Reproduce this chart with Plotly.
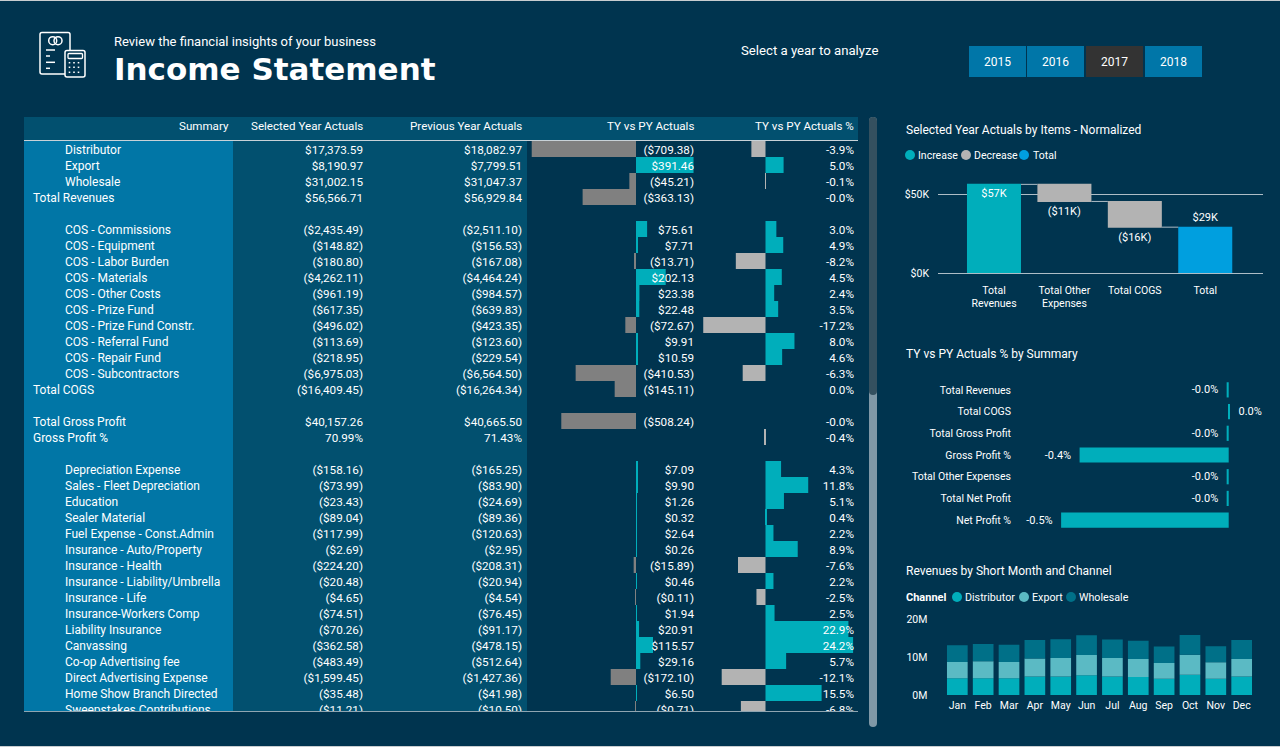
import plotly.graph_objects as go

W, H = 1280, 747
BG = "#00344F"
TEAL = "#00AEBB"
FONT = "Roboto"

# income statement table
row_labels = [
    "Distributor", "Export", "Wholesale", "Total Revenues", "",
    "COS - Commissions", "COS - Equipment", "COS - Labor Burden", "COS - Materials",
    "COS - Other Costs", "COS - Prize Fund", "COS - Prize Fund Constr.", "COS - Referral Fund",
    "COS - Repair Fund", "COS - Subcontractors", "Total COGS", "",
    "Total Gross Profit", "Gross Profit %", "",
    "Depreciation Expense", "Sales - Fleet Depreciation", "Education", "Sealer Material",
    "Fuel Expense - Const.Admin", "Insurance - Auto/Property", "Insurance - Health",
    "Insurance - Liability/Umbrella", "Insurance - Life", "Insurance-Workers Comp",
    "Liability Insurance", "Canvassing", "Co-op Advertising fee", "Direct Advertising Expense",
    "Home Show Branch Directed", "Sweepstakes Contributions",
]
selected_year = [
    "$17,373.59", "$8,190.97", "$31,002.15", "$56,566.71", "",
    "($2,435.49)", "($148.82)", "($180.80)", "($4,262.11)", "($961.19)", "($617.35)", "($496.02)",
    "($113.69)", "($218.95)", "($6,975.03)", "($16,409.45)", "",
    "$40,157.26", "70.99%", "",
    "($158.16)", "($73.99)", "($23.43)", "($89.04)", "($117.99)", "($2.69)", "($224.20)",
    "($20.48)", "($4.65)", "($74.51)", "($70.26)", "($362.58)", "($483.49)", "($1,599.45)",
    "($35.48)", "($11.21)",
]
previous_year = [
    "$18,082.97", "$7,799.51", "$31,047.37", "$56,929.84", "",
    "($2,511.10)", "($156.53)", "($167.08)", "($4,464.24)", "($984.57)", "($639.83)", "($423.35)",
    "($123.60)", "($229.54)", "($6,564.50)", "($16,264.34)", "",
    "$40,665.50", "71.43%", "",
    "($165.25)", "($83.90)", "($24.69)", "($89.36)", "($120.63)", "($2.95)", "($208.31)",
    "($20.94)", "($4.54)", "($76.45)", "($91.17)", "($478.15)", "($512.64)", "($1,427.36)",
    "($41.98)", "($10.50)",
]
ty_vs_py = [
    -709.38, 391.46, -45.21, -363.13, None,
    75.61, 7.71, -13.71, 202.13, 23.38, 22.48, -72.67, 9.91, 10.59, -410.53, -145.11, None,
    -508.24, None, None,
    7.09, 9.90, 1.26, 0.32, 2.64, 0.26, -15.89, 0.46, -0.11, 1.94, 20.91, 115.57, 29.16,
    -172.10, 6.50, -0.71,
]
ty_vs_py_pct = [
    -3.9, 5.0, -0.1, -0.0, None,
    3.0, 4.9, -8.2, 4.5, 2.4, 3.5, -17.2, 8.0, 4.6, -6.3, 0.0, None,
    -0.0, -0.4, None,
    4.3, 11.8, 5.1, 0.4, 2.2, 8.9, -7.6, 2.2, -2.5, 2.5, 22.9, 24.2, 5.7, -12.1, 15.5, -6.8,
]
total_rows = ["Total Revenues", "Total COGS", "Total Gross Profit", "Gross Profit %"]
table_headers = ["Summary", "Selected Year Actuals", "Previous Year Actuals", "TY vs PY Actuals", "TY vs PY Actuals %"]

# waterfall
waterfall_items = ["Total<br>Revenues", "Total Other<br>Expenses", "Total COGS", "Total"]
waterfall_values = [56.57, -10.9, -16.41, 29.26]
waterfall_labels = ["$57K", "($11K)", "($16K)", "$29K"]

# summary bars
summary_items = ["Total Revenues", "Total COGS", "Total Gross Profit", "Gross Profit %",
                 "Total Other Expenses", "Total Net Profit", "Net Profit %"]
summary_pct = [-0.006, 0.003, -0.006, -0.436, -0.006, -0.006, -0.49]
summary_labels = ["-0.0%", "0.0%", "-0.0%", "-0.4%", "-0.0%", "-0.0%", "-0.5%"]

# revenues by month
months = ["Jan", "Feb", "Mar", "Apr", "May", "Jun", "Jul", "Aug", "Sep", "Oct", "Nov", "Dec"]
distributor = [4.4, 4.4, 4.4, 4.85, 4.85, 5.2, 4.85, 4.75, 4.3, 5.3, 4.3, 4.85]
export = [4.3, 4.5, 4.3, 4.75, 4.9, 5.3, 4.9, 4.75, 4.15, 5.3, 4.3, 4.65]
wholesale = [4.4, 4.5, 4.5, 4.85, 4.95, 5.2, 4.85, 4.75, 4.3, 5.2, 4.2, 4.95]

years = ["2015", "2016", "2017", "2018"]


def px(x):
    return x / W


def py(y):
    return 1 - y / H


def note(x, y, text, size=12, anchor="left", color="white", family=FONT):
    return dict(x=px(x), y=py(y), xref="paper", yref="paper", text=text, showarrow=False,
                xanchor=anchor, yanchor="middle", borderpad=0,
                font=dict(size=size, color=color, family=family))


def rect(x0, y0, x1, y1, fill, line=None, width=1):
    return dict(type="rect", xref="paper", yref="paper", x0=px(x0), x1=px(x1), y0=py(y0), y1=py(y1),
                fillcolor=fill, line=dict(color=line, width=width if line else 0), layer="below")


def rounded(x0, y0, x1, y1, r, fill=None, line=None, width=1):
    rx, ry = px(r), r / H
    a, b, c, d = px(x0), px(x1), py(y0), py(y1)
    path = (f"M{a + rx},{c} L{b - rx},{c} Q{b},{c} {b},{c - ry} L{b},{d + ry} Q{b},{d} {b - rx},{d} "
            f"L{a + rx},{d} Q{a},{d} {a},{d + ry} L{a},{c - ry} Q{a},{c} {a + rx},{c} Z")
    return dict(type="path", xref="paper", yref="paper", path=path, fillcolor=fill or "rgba(0,0,0,0)",
                line=dict(color=line, width=width if line else 0), layer="below")


def dot(x, y, r, fill=None, line=None, width=1):
    return dict(type="circle", xref="paper", yref="paper", x0=px(x - r), x1=px(x + r),
                y0=py(y - r), y1=py(y + r), fillcolor=fill or "rgba(0,0,0,0)",
                line=dict(color=line, width=width if line else 0), layer="below")


def line(x0, y0, x1, y1, color="white", width=1):
    return dict(type="line", xref="paper", yref="paper", x0=px(x0), x1=px(x1), y0=py(y0), y1=py(y1),
                line=dict(color=color, width=width), layer="below")


fig = go.Figure()

# table bars
row_idx = list(range(len(row_labels)))
fig.add_trace(go.Bar(
    x=ty_vs_py, y=row_idx, orientation="h", xaxis="x", yaxis="y", width=1,
    marker=dict(color=[TEAL if (v or 0) >= 0 else "#808080" for v in ty_vs_py], line_width=0),
))
fig.add_trace(go.Bar(
    x=ty_vs_py_pct, y=row_idx, orientation="h", xaxis="x2", yaxis="y", width=1,
    marker=dict(color=[TEAL if (v or 0) >= 0 else "#B3B3B3" for v in ty_vs_py_pct], line_width=0),
))

# table text, the x axis of this layer runs in page pixels
col_right = [363, 522, 694, 854]


def money(v):
    if v is None:
        return ""
    return f"${v:,.2f}" if v >= 0 else f"(${-v:,.2f})"


pct_text = ["" if v is None else f"{v:.1f}%" for v in ty_vs_py_pct]
col_text = [selected_year, previous_year, [money(v) for v in ty_vs_py], pct_text]
for right, texts in zip(col_right, col_text):
    fig.add_trace(go.Scatter(
        x=[right] * len(texts), y=row_idx, text=texts, mode="text", textposition="middle left",
        xaxis="x3", yaxis="y3", cliponaxis=True, textfont=dict(size=11.7, color="white", family=FONT),
    ))
for indent, keep in ((33, True), (65, False)):
    names = [n if (n in total_rows) == keep else "" for n in row_labels]
    fig.add_trace(go.Scatter(
        x=[indent] * len(names), y=row_idx, text=names, mode="text", textposition="middle right",
        xaxis="x3", yaxis="y3", cliponaxis=True, textfont=dict(size=12, color="white", family=FONT),
    ))

# waterfall chart
fig.add_trace(go.Waterfall(
    x=waterfall_items, y=waterfall_values, measure=["relative", "relative", "relative", "total"],
    xaxis="x4", yaxis="y4", text=waterfall_labels, textposition=["inside", "outside", "outside", "outside"],
    insidetextanchor="end", constraintext="none", cliponaxis=False, width=0.767,
    textfont=dict(size=11, color="white", family=FONT),
    increasing=dict(marker=dict(color=TEAL, line_width=0)),
    decreasing=dict(marker=dict(color="#B3B3B3", line_width=0)),
    totals=dict(marker=dict(color="#009FDF", line_width=0)),
    connector=dict(line=dict(color="#AEBDC6", width=1)),
))

# summary bars
fig.add_trace(go.Bar(
    x=summary_pct, y=summary_items, orientation="h", xaxis="x5", yaxis="y5",
    marker=dict(color=TEAL, line_width=0), width=0.7,
    text=[t + "  " if v < 0 else "  " + t for t, v in zip(summary_labels, summary_pct)],
    textposition="outside", cliponaxis=False, constraintext="none",
    textfont=dict(size=11, color="white", family=FONT),
))

# month stack
for name, vals, color in (("Distributor", distributor, TEAL), ("Export", export, "#5BBAC4"),
                          ("Wholesale", wholesale, "#007088")):
    fig.add_trace(go.Bar(x=months, y=vals, name=name, xaxis="x6", yaxis="y6",
                         marker=dict(color=color, line_width=0), width=0.8))

hidden = dict(visible=False, fixedrange=True, automargin=False)
tick_font = dict(size=10.5, color="white", family=FONT)
plain = dict(fixedrange=True, automargin=False, showgrid=False, zeroline=False, showline=False, ticks="")

shapes = [
    rect(0, 0, 1280, 1, "#C8CDD0"),
    rect(0, 746, 1280, 747, "#C8CDD0"),
    # table blocks
    rect(24, 117, 858, 140, "#02506F"),
    rect(24, 141, 233, 711, "#0176A6"),
    rect(233, 141, 527, 711, "#02506F"),
    line(24, 140.5, 858, 140.5, "#C8D2D8"),
    line(24, 711.5, 858, 711.5, "#8FA5B1"),
    # scrollbar
    rounded(869, 117, 877, 727, 4, fill="#8098A6"),
    rounded(869, 117, 877, 395, 4, fill="#34505F"),
    # icon
    rounded(40, 32.5, 70, 74, 2, line="white", width=1.5),
    rounded(65, 50.5, 85, 77, 2, fill=BG, line="white", width=1.5),
    dot(52.7, 40.7, 4, line="white", width=1.5),
    dot(58, 40.7, 4, line="white", width=1.5),
    line(46, 50, 55, 50, width=1.5),
    line(46, 56, 50, 56, width=1.5),
    line(46, 62.3, 55, 62.3, width=1.5),
    line(46, 68.3, 50, 68.3, width=1.5),
    rounded(68, 53.5, 82.5, 58.5, 1, line="white", width=1.3),
]
for cx in (69.5, 74, 78.5):
    for cy in (62.7, 67.3, 72.3):
        shapes.append(line(cx - 0.8, cy, cx + 0.8, cy, width=1.5))

annotations = [
    note(113, 41, "Review the financial insights of your business", size=13),
    note(113, 69, "<b>Income Statement</b>", size=31, family="DejaVu Sans"),
    note(740, 51, "Select a year to analyze", size=13.2),
    note(905, 130, "Selected Year Actuals by Items - Normalized", size=12),
    note(905, 354, "TY vs PY Actuals % by Summary", size=12),
    note(905, 571, "Revenues by Short Month and Channel", size=12),
    note(905, 597, "<b>Channel</b>", size=11),
]
for right, text in zip([229.5] + col_right, table_headers):
    annotations.append(note(right + 0.5, 126, text, anchor="right", size=11.6))

# year buttons
button_left = [969, 1027, 1086, 1145]
for left, year in zip(button_left, years):
    shapes.append(rect(left, 46, left + 57, 77, "#333333" if year == "2017" else "#0076A8"))
    annotations.append(note(left + 28.5, 61.5, year, anchor="center"))

# hand placed legends
for cx, tx, color, name in ((910, 917, TEAL, "Increase"), (966, 973, "#B3B3B3", "Decrease"),
                            (1024, 1032, "#009FDF", "Total")):
    shapes.append(dot(cx, 155, 5, fill=color))
    annotations.append(note(tx, 155, name, size=10.5))
for cx, tx, color, name in ((957, 964, TEAL, "Distributor"), (1024, 1031, "#5BBAC4", "Export"),
                            (1071, 1078, "#007088", "Wholesale")):
    shapes.append(dot(cx, 597, 5, fill=color))
    annotations.append(note(tx, 597, name, size=10.7))

fig.update_layout(
    width=W, height=H, autosize=False, margin=dict(l=0, r=0, t=0, b=0, autoexpand=False),
    paper_bgcolor=BG, plot_bgcolor="rgba(0,0,0,0)", showlegend=False, barmode="relative",
    font=dict(family=FONT, color="white", size=12),
    shapes=shapes, annotations=annotations,
    # table rows, text sits on its own y axis a little lower than the bars
    yaxis=dict(domain=[py(711), py(141)], range=[35.125, -0.5], **hidden),
    yaxis3=dict(domain=[py(711), py(141)], range=[35, -0.625], anchor="x3", **hidden),
    xaxis=dict(domain=[px(527), px(697)], range=[(527 - 636) / 0.147, (697 - 636) / 0.147], anchor="y", **hidden),
    xaxis2=dict(domain=[px(697), px(858)], range=[(697 - 765.5) / 3.62, (858 - 765.5) / 3.62], anchor="y", **hidden),
    xaxis3=dict(domain=[px(24), px(858)], range=[24, 858], anchor="y3", **hidden),
    # waterfall
    xaxis4=dict(domain=[px(938), px(1263)], range=[-0.795, 3.82], anchor="y4", tickfont=tick_font,
                ticklabelstandoff=9, **plain),
    yaxis4=dict(domain=[py(273), py(179)], range=[0, 60], anchor="x4", tickvals=[0, 50], ticktext=["$0K", "$50K"],
                tickfont=tick_font, ticklabelstandoff=8, showgrid=True, gridcolor="#AEBDC6", gridwidth=1, zeroline=True,
                zerolinecolor="#AEBDC6", zerolinewidth=1, showline=False, fixedrange=True, automargin=False),
    # summary
    xaxis5=dict(domain=[px(1015), px(1263)], range=[(1015 - 1228.7) / 342, (1263 - 1228.7) / 342], anchor="y5", **hidden),
    yaxis5=dict(domain=[py(531), py(379)], autorange="reversed", anchor="x5", tickfont=tick_font,
                ticklabelstandoff=3, **plain),
    # months
    xaxis6=dict(domain=[px(944.4), px(1254.6)], anchor="y6", tickfont=tick_font, ticklabelstandoff=2, **plain),
    yaxis6=dict(domain=[py(695), py(619)], range=[0, 20], anchor="x6", tickvals=[0, 10, 20],
                ticktext=["0M", "10M", "20M"], tickfont=tick_font, ticklabelstandoff=16, **plain),
)

# browser default body margin would push the page off the 1280x747 window
fig.write_html("out.html", config={"displayModeBar": False},
               post_script="document.body.style.margin='0';document.body.style.background='#00344F';")
